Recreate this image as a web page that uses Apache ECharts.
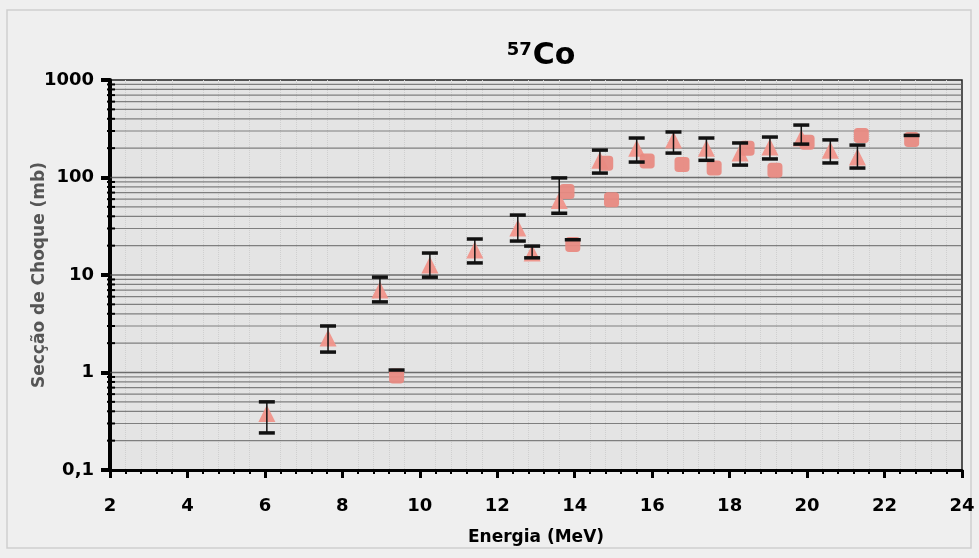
<!DOCTYPE html>
<html><head><meta charset="utf-8">
<script src="https://cdn.jsdelivr.net/npm/echarts@6/dist/echarts.min.js"></script>
<style>html,body{margin:0;padding:0;background:#efefef}#c{width:979px;height:558px}</style>
</head><body><div id="c"></div>
<script>
// ---- data ----
const xTicks = [2, 4, 6, 8, 10, 12, 14, 16, 18, 20, 22, 24];
const yTickLabels = ['0,1', '1', '10', '100', '1000'];

// triangles with error bars
const triX  = [6.05, 7.63, 8.97, 10.26, 11.42, 12.53, 12.9, 13.6, 14.65, 15.6, 16.55, 17.4, 18.27, 19.04, 19.85, 20.6, 21.3];
const triY  = [0.38, 2.26, 7.0, 12.7, 18.0, 30.3, 16.8, 58, 150, 200, 243, 200, 178, 206, 254, 190, 162];
const triLo = [0.24, 1.62, 5.3, 9.5, 13.3, 22.3, 15.0, 43, 111, 144, 178, 150, 134, 155, 220, 141, 125];
const triHi = [0.50, 3.0, 9.5, 16.8, 23.4, 41.2, 19.8, 99, 191, 254, 293, 254, 226, 260, 345, 243, 215];

// squares (upper error bar only where one is visible)
const sqX  = [9.4, 13.8, 13.95, 14.8, 14.95, 15.87, 16.77, 17.6, 18.45, 19.17, 20.0, 21.4, 22.7];
const sqY  = [0.92, 72, 20.5, 140, 59, 148, 136, 125, 200, 119, 230, 270, 245];
const sqHi = [1.06, null, 23, null, null, null, null, null, null, null, null, null, 270];

// ---- build ----
const FONT = 'DejaVu Sans';
const X_MIN = xTicks[0], X_MAX = xTicks[xTicks.length - 1];
const decades = [0.1, 1, 10, 100];
const gridVals = [];
decades.forEach(d => { for (let k = 1; k <= 9; k++) gridVals.push(+(k * d).toPrecision(3)); });
gridVals.push(1000);

const chart = echarts.init(document.getElementById('c'), null, {renderer: 'canvas'});

function gridRender(params, api) {
  const v = api.value(1);
  const p0 = api.coord([X_MIN, v]), p1 = api.coord([X_MAX, v]);
  const isMajor = Math.abs(Math.log10(v) - Math.round(Math.log10(v))) < 1e-6;
  const children = [];
  if (v > 0.1 && v < 1000) {
    children.push({type: 'line', shape: {x1: p0[0], y1: p0[1], x2: p1[0], y2: p1[1]},
      style: {stroke: isMajor ? '#444' : '#5e5e5e', lineWidth: isMajor ? 1.6 : 1.2, opacity: 0.75}});
  }
  if (!isMajor) {
    children.push({type: 'line', shape: {x1: p0[0] - 3, y1: p0[1], x2: p0[0] + 5, y2: p0[1]},
      style: {stroke: '#000', lineWidth: 2}});
  }
  return {type: 'group', children};
}

const CAP = 8;
function errRender(params, api) {
  const x = api.value(0), lo = api.value(1), hi = api.value(2);
  const a = api.coord([x, lo]), b = api.coord([x, hi]);
  return {type: 'group', children: [
    {type: 'line', shape: {x1: a[0], y1: a[1], x2: b[0], y2: b[1]}, style: {stroke: '#111', lineWidth: 1.5}},
    {type: 'line', shape: {x1: b[0] - CAP, y1: b[1], x2: b[0] + CAP, y2: b[1]}, style: {stroke: '#111', lineWidth: 3.5}},
    {type: 'line', shape: {x1: a[0] - CAP, y1: a[1], x2: a[0] + CAP, y2: a[1]}, style: {stroke: '#111', lineWidth: 3.5}}
  ]};
}
function capRender(params, api) {
  const x = api.value(0), hi = api.value(1);
  const b = api.coord([x, hi]);
  return {type: 'line', shape: {x1: b[0] - CAP, y1: b[1], x2: b[0] + CAP, y2: b[1]}, style: {stroke: '#111', lineWidth: 3.5}};
}

const option = {
  backgroundColor: '#efefef',
  animation: false,
  graphic: [{type: 'rect', shape: {x: 7, y: 10, width: 964, height: 538},
    style: {fill: 'none', stroke: '#cfcfcf', lineWidth: 1.5}, z: -1}],
  title: {
    text: '{sup|57}{co|Co}', left: 536, top: 36, textAlign: 'center',
    textStyle: {rich: {
      sup: {fontFamily: FONT, fontWeight: 'bold', fontSize: 18, color: '#000', verticalAlign: 'top', padding: [0, 1, 12, 0]},
      co: {fontFamily: FONT, fontWeight: 'bold', fontSize: 30, color: '#000'}
    }}
  },
  grid: {left: 110, right: 17, top: 80, bottom: 88, show: true, backgroundColor: '#e4e4e4',
    borderColor: '#222', borderWidth: 1.5},
  xAxis: {
    type: 'value', min: X_MIN, max: X_MAX, interval: 2,
    axisLine: {lineStyle: {color: '#000', width: 3}},
    axisTick: {length: 8, lineStyle: {color: '#000', width: 3}},
    minorTick: {show: true, splitNumber: 5, length: 4, lineStyle: {color: '#000', width: 2}},
    splitLine: {show: false},
    minorSplitLine: {show: true, lineStyle: {color: '#cfcfcf', type: 'dotted', width: 1}},
    axisLabel: {fontFamily: FONT, fontSize: 18, fontWeight: 'bold', color: '#000', margin: 27},
    name: 'Energia (MeV)', nameLocation: 'middle', nameGap: 59, nameMoveOverlap: false,
    nameTextStyle: {fontFamily: FONT, fontSize: 17, fontWeight: 'bold', color: '#000'}
  },
  yAxis: {
    type: 'log', logBase: 10, min: 0.1, max: 1000,
    axisLine: {lineStyle: {color: '#000', width: 4}},
    axisTick: {length: 9, lineStyle: {color: '#000', width: 4}},
    splitLine: {show: false},
    axisLabel: {fontFamily: FONT, fontSize: 18, fontWeight: 'bold', color: '#000', margin: 16,
      formatter: v => { const i = Math.round(Math.log10(v)) + 1; return yTickLabels[i] !== undefined ? yTickLabels[i] : String(v).replace('.', ','); }},
    name: 'Secção de Choque (mb)', nameLocation: 'middle', nameGap: 62, nameMoveOverlap: false,
    nameTextStyle: {fontFamily: FONT, fontSize: 17, fontWeight: 'bold', color: '#555'}
  },
  series: [
    {type: 'custom', renderItem: gridRender, clip: false, silent: true, z: 1,
      data: gridVals.map(v => [X_MIN, v]), encode: {x: 0, y: 1}},
    {type: 'scatter', symbol: 'triangle', symbolSize: 17, z: 3,
      itemStyle: {color: '#f0948a', opacity: 0.95},
      data: triX.map((x, i) => [x, triY[i]])},
    {type: 'scatter', symbol: 'roundRect', symbolSize: 15, z: 3,
      itemStyle: {color: '#e88a82', opacity: 0.95},
      data: sqX.map((x, i) => [x, sqY[i]])},
    {type: 'custom', renderItem: errRender, z: 4, silent: true,
      data: triX.map((x, i) => [x, triLo[i], triHi[i]]), encode: {x: 0, y: [1, 2]}},
    {type: 'custom', renderItem: capRender, z: 4, silent: true,
      data: sqX.map((x, i) => [x, sqHi[i]]).filter(d => d[1] !== null), encode: {x: 0, y: 1}}
  ]
};
chart.setOption(option);
</script>
</body></html>
